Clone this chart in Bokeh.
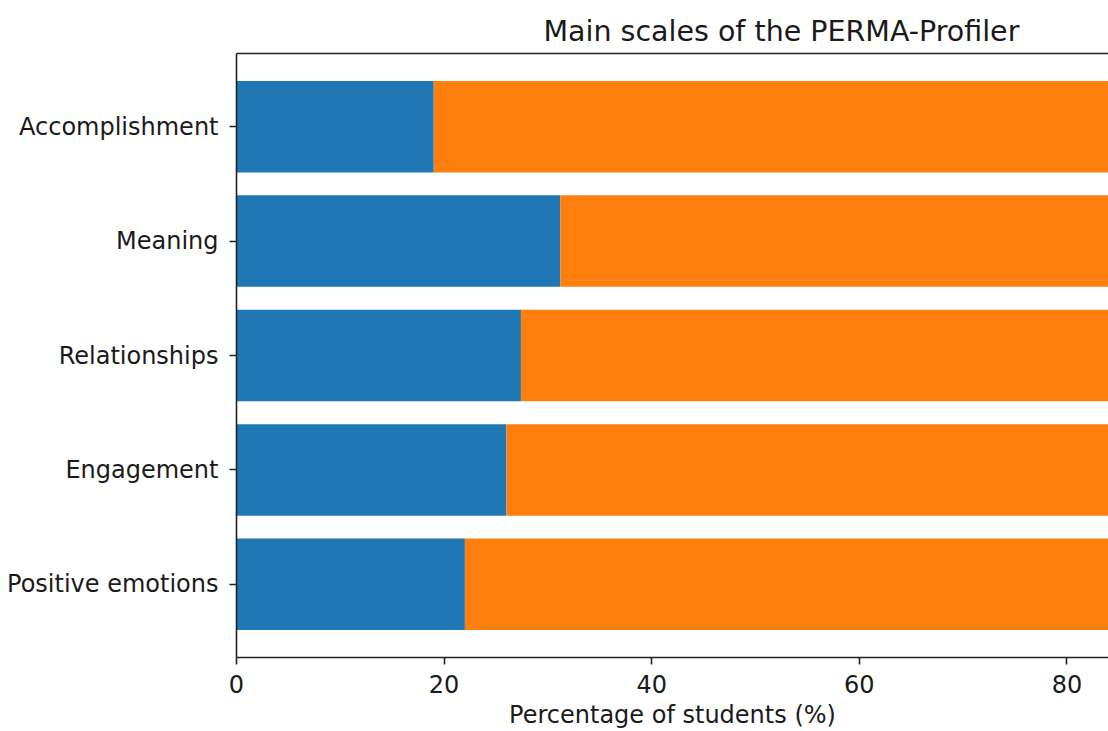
from bokeh.plotting import figure
from bokeh.models import ColumnDataSource, Range1d, FixedTicker, LinearAxis
from bokeh.embed import file_html
from bokeh.resources import INLINE

categories = ["Positive emotions", "Engagement", "Relationships", "Meaning", "Accomplishment"]
low_pct = [22.0, 26.0, 27.4, 31.2, 19.0]
high_pct = [78.0, 74.0, 72.6, 68.8, 81.0]
x_ticks = [0, 20, 40, 60, 80]

positions = list(range(len(categories)))
src = ColumnDataSource(dict(y=positions, low=low_pct, high=high_pct))

FONT = "DejaVu Sans"
TXT = "#1a1a1a"

p = figure(width=1108, height=731, output_backend="svg", toolbar_location=None,
           x_range=Range1d(0, 84.0), y_range=Range1d(-0.64, 4.64),
           min_border_left=236, min_border_right=0, min_border_top=53, min_border_bottom=73,
           title="Main scales of the PERMA-Profiler")
p.hbar_stack(["low", "high"], y="y", height=0.8, color=["#1f77b4", "#ff7f0e"],
             line_color=None, source=src)

p.grid.visible = False
p.outline_line_color = None
p.background_fill_color = "white"
p.border_fill_color = "white"

p.title.text_font = FONT
p.title.text_font_size = "28.5px"
p.title.text_font_style = "normal"
p.title.text_color = TXT
p.title.align = "left"
p.title.offset = 307
p.title.standoff = 12

xa = p.xaxis[0]
xa.ticker = FixedTicker(ticks=x_ticks)
xa.axis_label = "Percentage of students (%)"
ya = p.yaxis[0]
ya.ticker = FixedTicker(ticks=positions)
ya.major_label_overrides = {i: c for i, c in enumerate(categories)}

for ax in (xa, ya):
    ax.axis_line_width = 1.6
    ax.axis_line_color = "#222222"
    ax.major_tick_line_width = 1.6
    ax.major_tick_line_color = "#222222"
    ax.major_tick_out = 7
    ax.major_tick_in = 0
    ax.minor_tick_line_color = None
    ax.major_label_text_font = FONT
    ax.major_label_text_font_size = "24px"
    ax.major_label_text_color = TXT
    ax.axis_label_text_font = FONT
    ax.axis_label_text_font_size = "24px"
    ax.axis_label_text_font_style = "normal"
    ax.axis_label_text_color = TXT
xa.major_label_standoff = 10
xa.axis_label_standoff = 5
ya.major_label_standoff = 11

top = LinearAxis(ticker=FixedTicker(ticks=[]), axis_line_width=1.6, axis_line_color="#222222",
                 major_tick_line_color=None, minor_tick_line_color=None,
                 major_label_text_font_size="0px")
p.add_layout(top, "above")

open("out.html", "w").write(file_html(p, INLINE))
